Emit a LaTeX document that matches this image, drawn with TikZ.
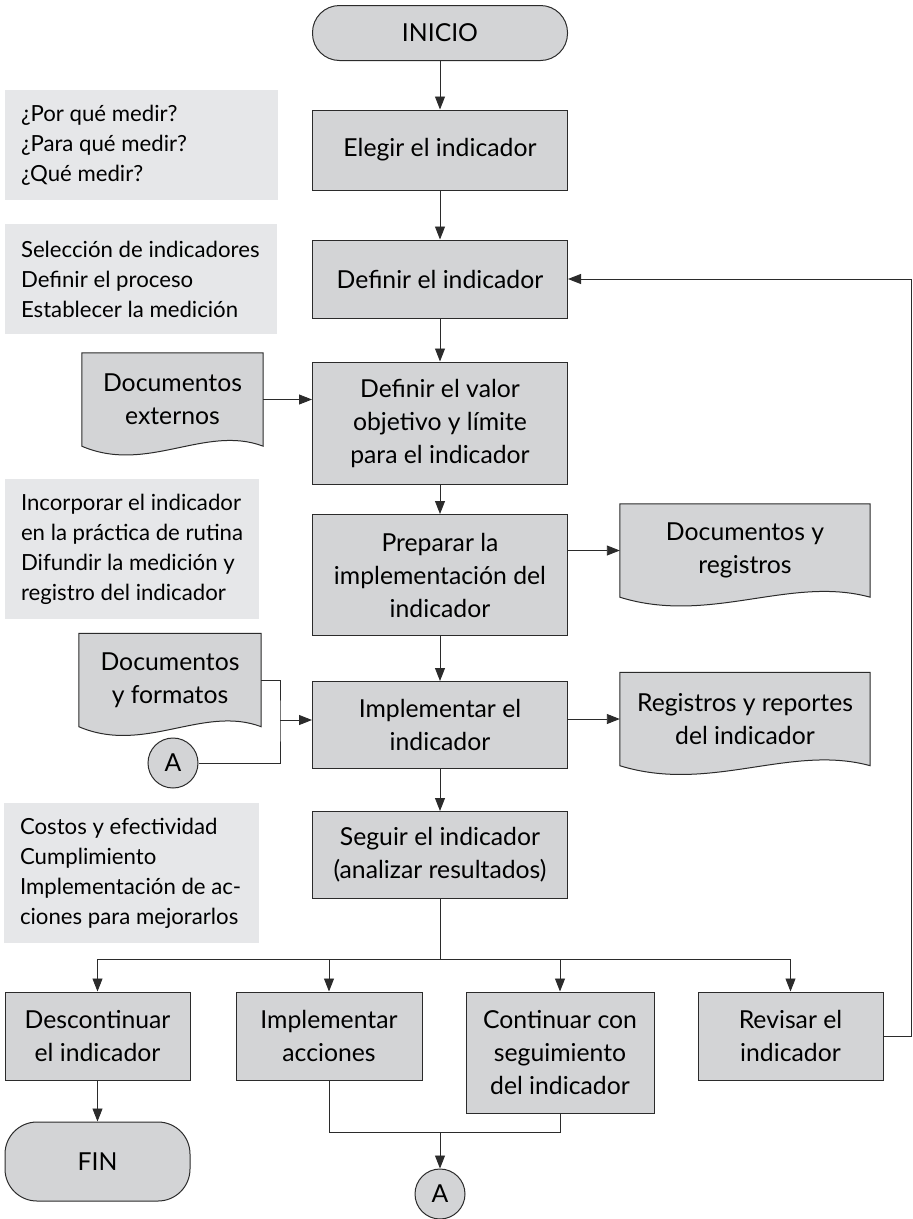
\documentclass[tikz,border=0pt]{standalone}
\usepackage{fontspec}
\setmainfont{Lato}
\usetikzlibrary{arrows.meta,calc,backgrounds}
\definecolor{boxgray}{HTML}{D3D4D6}
\definecolor{notegray}{HTML}{E6E7E9}
\definecolor{inkgray}{HTML}{2B2B2B}
\newcommand{\flowfont}{\fontsize{24.75}{33}\selectfont}
\newcommand{\notefont}{\fontsize{22.2}{30}\selectfont}
\newcommand{\docwave}[1]{%
  \begin{scope}[on background layer]
  \draw[boxline] (#1.north west) -- (#1.north east) -- (#1.south east)
    .. controls ($(#1.south east)!0.32!(#1.south west)+(0,-22)$)
    and ($(#1.south east)!0.64!(#1.south west)+(0,28)$) .. (#1.south west) -- cycle;
  \end{scope}}
\begin{document}
\begin{tikzpicture}[x=1pt,y=-1pt,
  box/.style={draw=inkgray, line width=1pt, fill=boxgray, align=center, minimum width=255, font=\flowfont},
  term/.style={box, rounded corners=27pt},
  doc/.style={align=center, font=\flowfont, minimum height=93},
  boxline/.style={draw=inkgray, line width=1pt, fill=boxgray},
  con/.style={draw=inkgray, fill=boxgray, line width=1pt, circle, minimum size=50, inner sep=0pt, font=\flowfont},
  notebg/.style={fill=notegray, inner sep=0pt},
  notetxt/.style={align=left, font=\notefont, inner sep=0pt},
  line/.style={draw=inkgray, line width=0.9pt},
  arr/.style={-{Triangle[length=13pt,width=10pt]}}]
	\useasboundingbox (0,0) rectangle (913,1219);

	\node[notebg, minimum width=273, minimum height=110] (nota1) at (141.5,145) {};
	\node[notetxt, anchor=west] (nota1t) at ([xshift=16pt]nota1.west) {¿Por qué medir?\\¿Para qué medir?\\¿Qué medir?};
	\node[notebg, minimum width=272, minimum height=110] (nota2) at (141,279) {};
	\node[notetxt, anchor=west] (nota2t) at ([xshift=16pt]nota2.west) {Selección de indicadores\\Definir el proceso\\Establecer la medición};
	\node[notebg, minimum width=254, minimum height=140] (nota3) at (132,549) {};
	\node[notetxt, anchor=west] (nota3t) at ([xshift=16pt]nota3.west) {Incorporar el indicador\\en la práctica de rutina\\Difundir la medición y\\registro del indicador};
	\node[notebg, minimum width=255, minimum height=140] (nota4) at (131.5,873) {};
	\node[notetxt, anchor=west] (nota4t) at ([xshift=16pt]nota4.west) {Costos y efectividad\\Cumplimiento\\Implementación de ac-\\ciones para mejorarlos};

	\node[term, minimum height=55] (inicio) at (440,33) {INICIO};
	\node[box, minimum height=80] (elegir) at (440,150) {Elegir el indicador};
	\node[box, minimum height=78] (definir) at (440,279) {Definir el indicador};
	\node[box, minimum height=122] (valor) at (440,423) {Definir el valor\\objetivo y límite\\para el indicador};
	\node[box, minimum height=121] (preparar) at (440,575) {Preparar la\\implementación del\\indicador};
	\node[box, minimum height=87] (implem) at (440,725) {Implementar el\\indicador};
	\node[box, minimum height=87] (seguir) at (440,855) {Seguir el indicador\\(analizar resultados)};

	\node[box, minimum width=185, minimum height=88] (descont) at (97.5,1036) {Descontinuar\\el indicador};
	\node[box, minimum width=186, minimum height=88] (acciones) at (329,1036) {Implementar\\acciones};
	\node[box, minimum width=188, minimum height=121] (continuar) at (560,1052.5) {Continuar con\\seguimiento\\del indicador};
	\node[box, minimum width=185, minimum height=88] (revisar) at (790.5,1036) {Revisar el\\indicador};
	\node[term, minimum width=185, minimum height=79, rounded corners=32pt] (fin) at (97.5,1161.5) {FIN};

	\node[doc, minimum width=181] (docext) at (172.5,399.5) {Documentos\\externos};
	\docwave{docext}
	\node[doc, minimum width=250] (docreg) at (745,550.5) {Documentos y\\registros};
	\docwave{docreg}
	\node[doc, minimum width=182] (docfor) at (170,680) {Documentos\\y formatos};
	\docwave{docfor}
	\node[doc, minimum width=250] (docrep) at (745,719) {Registros y reportes\\del indicador};
	\docwave{docrep}

	\node[con] (aentra) at (173,763) {A};
	\node[con] (asale) at (440,1194) {A};

	\foreach \a/\b in {inicio/elegir, elegir/definir, definir/valor, valor/preparar, preparar/implem, implem/seguir, descont/fin}
		\draw[line,arr] (\a) -- (\b);
	\draw[line,arr] (docext.east) -- (docext.east -| valor.west);
	\draw[line,arr] (docreg.west -| preparar.east) -- (docreg.west);
	\draw[line,arr] (docrep.west -| implem.east) -- (docrep.west);

	\coordinate (junta) at (280,720);
	\draw[line] (docfor.east) -| (junta) |- (aentra.east);
	\draw[line,arr] (junta) -- (junta -| implem.west);

	\coordinate (rama) at (440,959);
	\draw[line] (seguir) -- (rama);
	\foreach \b in {descont,acciones,continuar,revisar}
		\draw[line,arr] (rama) -| (\b.north);

	\coordinate (vuelta) at (911,0);
	\draw[line,arr] (revisar.east) -| (vuelta |- definir.east) -- (definir.east);

	\coordinate (union) at (440,1132);
	\draw[line] (acciones.south) |- (union) -| (continuar.south);
	\draw[line,arr] (union) -- (asale);
\end{tikzpicture}
\end{document}
